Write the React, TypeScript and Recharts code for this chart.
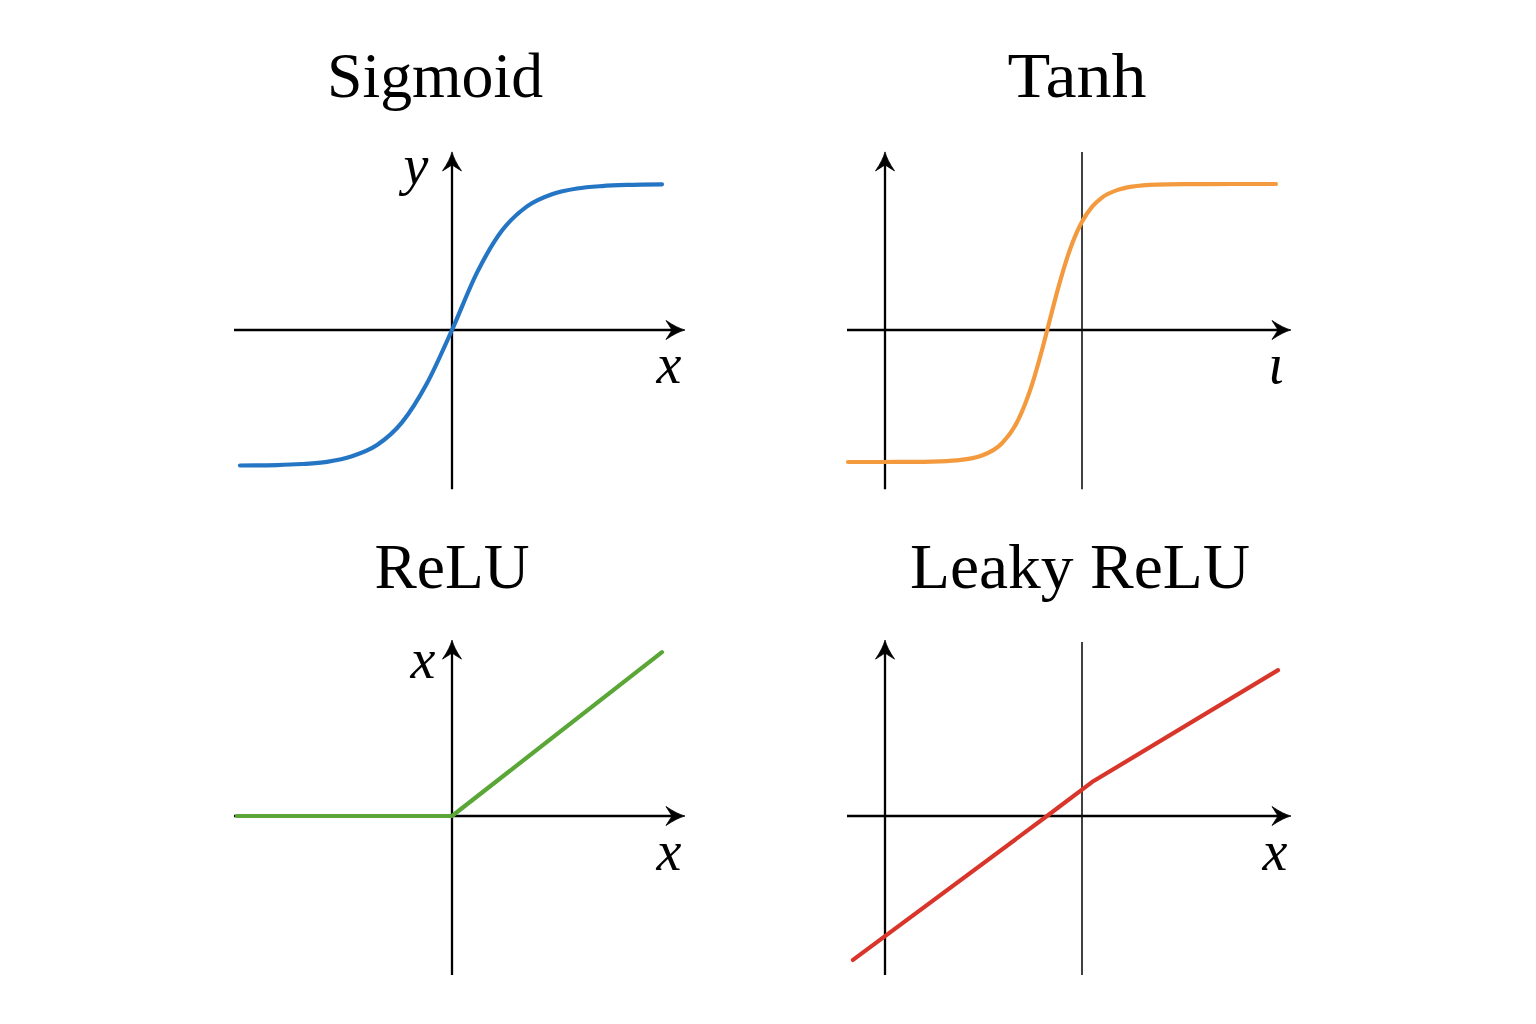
import React from "react";
import { LineChart, Line, XAxis, YAxis, ReferenceLine } from "recharts";

// ---------- data ----------
const sigmoidX = [-4.24, -3.5, -3, -2.5, -2, -1.5, -1, -0.5, 0, 0.5, 1, 1.5, 2, 2.5, 3, 3.5, 4.2];
const sigmoidY = [-0.928, -0.925, -0.918, -0.903, -0.865, -0.788, -0.633, -0.365, 0, 0.393, 0.681, 0.847, 0.93, 0.969, 0.986, 0.994, 0.998];

const tanhX = [-4.68, -4, -3.5, -3, -2.5, -2, -1.6, -1.3, -1, -0.8, -0.66, -0.5, -0.3, -0.1, 0, 0.2, 0.4, 0.7, 1, 1.5, 2, 3, 3.88];
const tanhY = [-0.904, -0.904, -0.903, -0.901, -0.893, -0.86, -0.776, -0.632, -0.374, -0.137, 0.048, 0.258, 0.491, 0.672, 0.741, 0.843, 0.907, 0.958, 0.982, 0.996, 0.999, 1.0, 1.0];

const reluX = [-4.3, 0, 4.2];
const reluY = [0, 0, 4.2];

const leakyX = [-4.58, -0.7, 0.2, 3.92];
const leakyY = [-3.69, 0, 0.87, 3.74];

const titles = ["Sigmoid", "Tanh", "ReLU", "Leaky ReLU"];

// axis segments in data units: [x1, y1, x2, y2, arrow(1)/thin(0)]
const sigmoidAxes = [
  [-4.36, 0, 4.66, 0, 1],
  [0, -1.09, 0, 1.22, 1],
];
const tanhAxes = [
  [-4.7, 0, 4.18, 0, 1],
  [-3.94, -1.09, -3.94, 1.22, 1],
  [0, -1.09, 0, 1.22, 0],
];
const reluAxes = [
  [-4.36, 0, 4.66, 0, 1],
  [0, -4.08, 0, 4.51, 1],
];
const leakyAxes = [
  [-4.7, 0, 4.18, 0, 1],
  [-3.94, -4.08, -3.94, 4.51, 1],
  [0, -4.08, 0, 4.46, 0],
];

const toData = (xs: number[], ys: number[]) => xs.map((x, i) => ({ x, y: ys[i] }));

// ---------- drawing helpers ----------
const ArrowShape = (p: any) => {
  const { x1, y1, x2, y2 } = p;
  const dx = x2 - x1;
  const dy = y2 - y1;
  const len = Math.hypot(dx, dy) || 1;
  const ux = dx / len;
  const uy = dy / len;
  const nx = -uy;
  const ny = ux;
  const L = 19;
  const W = 9.5;
  const N = 13;
  const bx = x2 - L * ux;
  const by = y2 - L * uy;
  const cx = x2 - N * ux;
  const cy = y2 - N * uy;
  const d = `M ${x2} ${y2} Q ${x2 - 8 * ux + 2 * nx} ${y2 - 8 * uy + 2 * ny} ${bx + W * nx} ${by + W * ny} Q ${cx} ${cy} ${cx} ${cy} Q ${cx} ${cy} ${bx - W * nx} ${by - W * ny} Q ${x2 - 8 * ux - 2 * nx} ${y2 - 8 * uy - 2 * ny} ${x2} ${y2} Z`;
  return (
    <g>
      <line x1={x1} y1={y1} x2={cx} y2={cy} stroke="#000" strokeWidth={2.3} />
      <path d={d} fill="#000" stroke="#000" strokeWidth={0.8} strokeLinejoin="miter" />
    </g>
  );
};

const ThinShape = (p: any) => {
  const { x1, y1, x2, y2 } = p;
  return <line x1={x1} y1={y1} x2={x2} y2={y2} stroke="#111" strokeWidth={1.6} />;
};

type PanelProps = {
  left: number;
  top: number;
  w: number;
  h: number;
  ox: number;
  oy: number;
  xUnit: number;
  yUnit: number;
  data: { x: number; y: number }[];
  color: string;
  curve: "monotone" | "linear";
  axes: number[][];
};

const Panel = ({ left, top, w, h, ox, oy, xUnit, yUnit, data, color, curve, axes }: PanelProps) => {
  const xDomain = [(left - ox) / xUnit, (left + w - ox) / xUnit];
  const yDomain = [(oy - (top + h)) / yUnit, (oy - top) / yUnit];
  return (
    <div style={{ position: "absolute", left, top, width: w, height: h }}>
      <LineChart width={w} height={h} margin={{ top: 0, right: 0, bottom: 0, left: 0 }}>
        <XAxis type="number" dataKey="x" domain={xDomain} allowDataOverflow hide />
        <YAxis type="number" dataKey="y" domain={yDomain} allowDataOverflow hide />
        {axes.map((a, i) => (
          <ReferenceLine
            key={i}
            segment={[
              { x: a[0], y: a[1] },
              { x: a[2], y: a[3] },
            ]}
            ifOverflow="visible"
            shape={a[4] ? ArrowShape : ThinShape}
          />
        ))}
        <Line
          data={data}
          dataKey="y"
          type={curve}
          stroke={color}
          strokeWidth={4.2}
          strokeLinecap="round"
          strokeLinejoin="round"
          dot={false}
          activeDot={false}
          isAnimationActive={false}
        />
      </LineChart>
    </div>
  );
};

const TITLE_FONT = "'Liberation Serif', 'Times New Roman', serif";

export default function App() {
  return (
    <div style={{ position: "absolute", left: 0, top: 0, width: 1536, height: 1024, background: "#fff", overflow: "hidden" }}>
      <Panel left={220} top={140} w={480} h={360} ox={452} oy={330} xUnit={50} yUnit={146}
        data={toData(sigmoidX, sigmoidY)} color="#2476c4" curve="monotone" axes={sigmoidAxes} />
      <Panel left={830} top={140} w={480} h={360} ox={1082} oy={330} xUnit={50} yUnit={146}
        data={toData(tanhX, tanhY)} color="#f39a3e" curve="monotone" axes={tanhAxes} />
      <Panel left={220} top={630} w={480} h={360} ox={452} oy={816} xUnit={50} yUnit={39}
        data={toData(reluX, reluY)} color="#5aa636" curve="linear" axes={reluAxes} />
      <Panel left={830} top={630} w={480} h={360} ox={1082} oy={816} xUnit={50} yUnit={39}
        data={toData(leakyX, leakyY)} color="#d9362b" curve="linear" axes={leakyAxes} />

      <svg width={1536} height={1024} style={{ position: "absolute", left: 0, top: 0, pointerEvents: "none" }}>
        <g fontFamily={TITLE_FONT} fontSize={63} fill="#000" textAnchor="middle">
          <text x={435} y={97} textLength={216} lengthAdjust="spacingAndGlyphs">{titles[0]}</text>
          <text x={1077} y={97} textLength={139} lengthAdjust="spacingAndGlyphs">{titles[1]}</text>
          <text x={452} y={588} textLength={155} lengthAdjust="spacingAndGlyphs">{titles[2]}</text>
          <text x={1080} y={588} textLength={340} lengthAdjust="spacingAndGlyphs">{titles[3]}</text>
        </g>
        <g fontFamily={TITLE_FONT} fontStyle="italic" fontSize={56} fill="#000" textAnchor="middle">
          <text x={416} y={184}>y</text>
          <text x={669} y={383}>x</text>
          <text x={1276} y={383}>ι</text>
          <text x={423} y={678}>x</text>
          <text x={669} y={870}>x</text>
          <text x={1275} y={870}>x</text>
        </g>
      </svg>
    </div>
  );
}
